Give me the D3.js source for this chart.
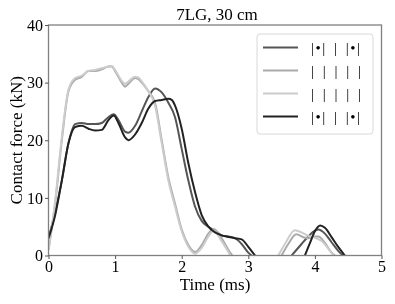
<!DOCTYPE html>
<html>
<head>
<meta charset="utf-8">
<script src="https://cdn.jsdelivr.net/npm/d3@7"></script>
<style>
  body { margin: 0; background: #fff; }
  svg { will-change: transform; }
  text { font-family: "Liberation Serif", "DejaVu Serif", serif; fill: #000; }
</style>
</head>
<body>
<svg id="chart" width="395" height="304"></svg>
<script>
// Дані: [час (мс), сила (кН)], null — розрив між імпульсами
const xTicks = [0, 1, 2, 3, 4, 5];
const yTicks = [0, 10, 20, 30, 40];
const labels = ["|•| | |•|", "| | | | |", "| | | | |", "|•| | |•|"];
const colors = ["#555555", "#aaaaaa", "#cccccc", "#222222"];

const series1 = [
  [0, 3], [0.1, 7.5], [0.2, 13], [0.3, 19.5], [0.4, 22.8], [0.5, 23], [0.6, 22.8], [0.7, 22.8],
  [0.8, 23], [0.9, 24], [0.98, 24.5], [1.05, 23.5], [1.15, 21.5], [1.2, 21.3], [1.3, 22.5],
  [1.4, 25], [1.5, 27.5], [1.6, 29], [1.7, 28.3], [1.8, 26.5], [1.9, 24], [2.0, 18.5],
  [2.1, 13], [2.2, 8.5], [2.3, 6], [2.4, 5], [2.5, 4.3], [2.6, 3.5], [2.7, 3.3], [2.8, 3],
  [2.9, 2], [3.0, 0.5], [3.05, 0], null,
  [3.65, 0], [3.8, 2], [3.9, 3.3], [4.0, 4.3], [4.05, 4.5], [4.15, 3.8], [4.25, 2.3],
  [4.35, 0.8], [4.42, 0]
];
const series2 = [
  [0, 1], [0.1, 9], [0.2, 20], [0.3, 28.5], [0.4, 30.5], [0.5, 31], [0.6, 32], [0.7, 32],
  [0.8, 32.3], [0.9, 32.8], [0.95, 32.8], [1.0, 32], [1.1, 30], [1.15, 29.3], [1.2, 29.8],
  [1.3, 30.8], [1.35, 30.6], [1.4, 30], [1.5, 28.5], [1.6, 26.5], [1.7, 20], [1.8, 13.5],
  [1.9, 9], [2.0, 4.5], [2.1, 1.8], [2.2, 0.6], [2.3, 1.8], [2.4, 3.8], [2.48, 4.6],
  [2.6, 3], [2.7, 1], [2.76, 0], null,
  [3.5, 0], [3.6, 2], [3.72, 3.7], [3.82, 3.2], [3.9, 3], [4.0, 3.3], [4.05, 3.3],
  [4.15, 2.2], [4.25, 0.5], [4.3, 0]
];
const series3 = [
  [0, 1], [0.1, 9.5], [0.2, 20.5], [0.3, 28.8], [0.4, 30.8], [0.5, 31.2], [0.6, 32], [0.7, 32.2],
  [0.8, 32.5], [0.9, 32.8], [0.95, 32.9], [1.0, 32.2], [1.1, 30.3], [1.15, 29.8], [1.2, 30.2],
  [1.3, 31], [1.35, 30.9], [1.4, 30.2], [1.5, 28.5], [1.6, 26], [1.7, 19.5], [1.8, 13],
  [1.9, 8.5], [2.0, 4.2], [2.1, 1.5], [2.2, 0.3], [2.3, 1.3], [2.4, 3.3], [2.48, 4.3],
  [2.6, 2.5], [2.7, 0.6], [2.73, 0], null,
  [3.45, 0], [3.55, 2], [3.7, 4.4], [3.8, 4], [3.9, 3.4], [4.02, 3.0], [4.1, 2.5],
  [4.2, 1.2], [4.28, 0]
];
const series4 = [
  [0, 3], [0.1, 7], [0.2, 13], [0.3, 19.5], [0.4, 22.3], [0.5, 22.5], [0.6, 22], [0.7, 21.7],
  [0.8, 21.8], [0.9, 23.5], [0.98, 24.3], [1.05, 23], [1.15, 20.5], [1.2, 20], [1.3, 21],
  [1.4, 23], [1.5, 25.5], [1.6, 26.8], [1.7, 27], [1.8, 27.2], [1.85, 27], [1.9, 26],
  [2.0, 22], [2.1, 16], [2.2, 11], [2.3, 7], [2.4, 5], [2.5, 4], [2.6, 3.5], [2.7, 3.2],
  [2.8, 3], [2.9, 2.8], [3.0, 1.5], [3.1, 0], null,
  [3.85, 0], [3.92, 2], [4.0, 4.2], [4.08, 5.2], [4.15, 4.8], [4.25, 3.2], [4.35, 1.5],
  [4.45, 0]
];
const allSeries = [series1, series2, series3, series4];

const svg = d3.select("#chart");
const margin = { top: 25, right: 13.5, bottom: 48.5, left: 48.5 };
const width = +svg.attr("width");
const height = +svg.attr("height");
const innerWidth = width - margin.left - margin.right;
const innerHeight = height - margin.top - margin.bottom;

const g = svg.append("g").attr("transform", `translate(${margin.left},${margin.top})`);

const xScale = d3.scaleLinear().domain([0, 5]).range([0, innerWidth]);
const yScale = d3.scaleLinear().domain([0, 40]).range([innerHeight, 0]);

// Криві
const line = d3.line()
  .defined((d) => d !== null)
  .x((d) => xScale(d[0]))
  .y((d) => yScale(d[1]))
  .curve(d3.curveMonotoneX);

g.append("clipPath").attr("id", "clip")
  .append("rect").attr("width", innerWidth).attr("height", innerHeight);

g.append("g").attr("clip-path", "url(#clip)")
  .selectAll("path")
  .data(allSeries)
  .join("path")
  .attr("d", line)
  .attr("fill", "none")
  .attr("stroke", (d, i) => colors[i])
  .attr("stroke-width", 2)
  .attr("stroke-linejoin", "round");

// Рамка
g.append("rect")
  .attr("width", innerWidth).attr("height", innerHeight)
  .attr("fill", "none").attr("stroke", "#808080").attr("stroke-width", 1.3);

// Осі
const xAxis = g.append("g")
  .attr("transform", `translate(0,${innerHeight})`)
  .call(d3.axisBottom(xScale).tickValues(xTicks).tickFormat(d3.format("d")).tickSize(3.5).tickPadding(2));
const yAxis = g.append("g")
  .call(d3.axisLeft(yScale).tickValues(yTicks).tickFormat(d3.format("d")).tickSize(3.5).tickPadding(2));

[xAxis, yAxis].forEach((a) => {
  a.attr("font-family", null).attr("font-size", null);
  a.select(".domain").remove();
  a.selectAll("line").attr("stroke", "#555");
  a.selectAll("text").attr("font-size", 16).attr("fill", "#000");
});

// Підписи
svg.append("text")
  .attr("x", margin.left + innerWidth / 2 + 2).attr("y", 20)
  .attr("text-anchor", "middle").attr("font-size", 17)
  .text("7LG, 30 cm");

svg.append("text")
  .attr("x", margin.left + innerWidth / 2).attr("y", 290)
  .attr("text-anchor", "middle").attr("font-size", 17)
  .text("Time (ms)");

svg.append("text")
  .attr("transform", "rotate(-90)")
  .attr("x", -(margin.top + innerHeight / 2)).attr("y", 22)
  .attr("text-anchor", "middle").attr("font-size", 17)
  .text("Contact force (kN)");

// Легенда
const legend = svg.append("g").attr("transform", "translate(257,34)");
legend.append("rect")
  .attr("width", 116).attr("height", 100).attr("rx", 3)
  .attr("fill", "#fff").attr("fill-opacity", 0.8)
  .attr("stroke", "#d8d8d8").attr("stroke-width", 1);

const rows = legend.selectAll("g.row")
  .data(labels)
  .join("g")
  .attr("class", "row")
  .attr("transform", (d, i) => `translate(0,${13.5 + i * 23})`);

rows.append("line")
  .attr("x1", 6).attr("x2", 41)
  .attr("stroke", (d, i) => colors[i])
  .attr("stroke-width", 2);

rows.append("text")
  .attr("x", 54).attr("y", 5)
  .attr("font-size", 15)
  .attr("letter-spacing", 1.5)
  .attr("word-spacing", 2)
  .text((d) => d);
</script>
</body>
</html>
